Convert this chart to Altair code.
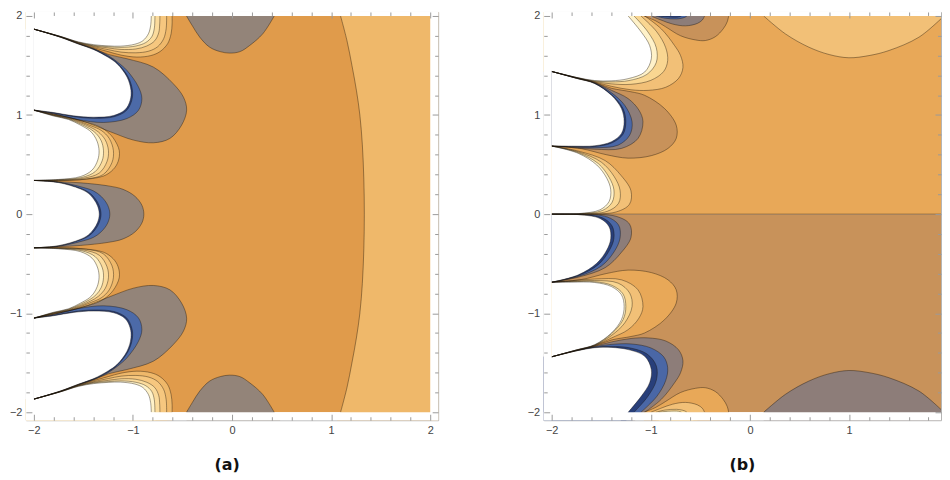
import altair as alt
import pandas as pd

# ---------------- axes / frame ----------------
MAJOR = [-2, -1, 0, 1, 2]
MINOR = [-1.8, -1.6, -1.4, -1.2, -0.8, -0.6, -0.4, -0.2,
         0.2, 0.4, 0.6, 0.8, 1.2, 1.4, 1.6, 1.8]
XDOM_A = [-2.08, 2.08]
XDOM_B = [-2.08, 1.926]
YDOM = [-2.08, 2.04]

# ---------------- colours ----------------
PAL_A = {"white": "#FFFFFF", "cream": "#FFF2C9", "yellow": "#FBDB9C", "light": "#F6C77F",
         "lighter": "#EFB86A", "main": "#E09B4B", "gray": "#938479", "blue": "#4C6AA8",
         "navy": "#283F7A"}
PAL_B = {"white": "#FFFFFF", "cream": "#FFF2C9", "yellow": "#F9D691", "light": "#F2C077",
         "main": "#E8A858", "tan": "#C8925A", "gray": "#8D7D79", "blue": "#4A67A6",
         "navy": "#283F7A"}
SWAP_B = {"white": "white", "cream": "navy", "navy": "cream", "yellow": "blue", "blue": "yellow",
          "light": "gray", "gray": "light", "main": "tan", "tan": "main"}

# ---------------- panel (a): contour curves (upper half) ----------------
A_TOP_OUTER = [(-2, 1.867), (-1.729, 1.789), (-1.55, 1.726), (-1.395, 1.68), (-1.25, 1.64), (-1.12, 1.605),
               (-0.96, 1.585), (-0.82, 1.6), (-0.727, 1.64), (-0.65, 1.72), (-0.615, 1.82), (-0.605, 1.92), (-0.605, 2.0)]
A_TOP_LIGHT = [(-2, 1.867), (-1.729, 1.790), (-1.55, 1.729), (-1.395, 1.69), (-1.25, 1.66), (-1.12, 1.635),
               (-0.97, 1.628), (-0.84, 1.645), (-0.75, 1.69), (-0.69, 1.77), (-0.665, 1.87), (-0.66, 2.0)]
A_TOP_YELLOW = [(-2, 1.867), (-1.729, 1.791), (-1.55, 1.732), (-1.395, 1.697), (-1.25, 1.678), (-1.12, 1.662),
                (-0.97, 1.667), (-0.86, 1.697), (-0.78, 1.75), (-0.74, 1.83), (-0.73, 1.92), (-0.728, 2.0)]
A_TOP_CREAM = [(-2, 1.867), (-1.729, 1.792), (-1.55, 1.735), (-1.395, 1.703), (-1.25, 1.69), (-1.12, 1.683),
               (-0.97, 1.697), (-0.87, 1.732), (-0.81, 1.79), (-0.785, 1.87), (-0.778, 2.0)]
A_TOP_WHITE = [(-2, 1.867), (-1.729, 1.793), (-1.55, 1.738), (-1.395, 1.71), (-1.25, 1.698), (-1.128, 1.695),
               (-0.98, 1.715), (-0.9, 1.75), (-0.844, 1.82), (-0.822, 1.9), (-0.815, 2.0)]

A_LA_GRAY = [(-2, 1.867), (-1.729, 1.787), (-1.55, 1.722), (-1.395, 1.672), (-1.25, 1.612), (-1.06, 1.568),
             (-0.794, 1.484), (-0.594, 1.317), (-0.49, 1.18), (-0.458, 1.05), (-0.509, 0.898), (-0.627, 0.764),
             (-0.794, 0.72), (-0.994, 0.747), (-1.228, 0.831), (-1.529, 0.945), (-1.8, 1.01), (-2, 1.045)]
A_LA_BLUE = [(-2, 1.867), (-1.729, 1.786), (-1.55, 1.72), (-1.395, 1.668), (-1.25, 1.6), (-1.15, 1.53),
             (-1.06, 1.45), (-0.944, 1.283), (-0.91, 1.166), (-0.944, 1.048), (-1.06, 0.965), (-1.295, 0.925),
             (-1.562, 0.955), (-1.8, 1.012), (-2, 1.05)]
A_LA_NAVY = [(-2, 1.867), (-1.729, 1.785), (-1.55, 1.718), (-1.395, 1.664), (-1.25, 1.59), (-1.155, 1.522),
             (-1.048, 1.384), (-1.005, 1.249), (-1.013, 1.145), (-1.066, 1.045), (-1.19, 0.983), (-1.395, 0.967),
             (-1.6, 0.984), (-1.8, 1.02), (-2, 1.05)]
A_LA_WHITE = [(-2, 1.867), (-1.729, 1.784), (-1.55, 1.716), (-1.395, 1.66), (-1.25, 1.582), (-1.161, 1.518),
              (-1.06, 1.384), (-1.02, 1.249), (-1.028, 1.149), (-1.078, 1.055), (-1.195, 0.995), (-1.395, 0.978),
              (-1.6, 0.992), (-1.8, 1.025), (-2, 1.05)]

A_LB_OUTER = [(-2, 1.05), (-1.8, 1.003), (-1.65, 0.975), (-1.529, 0.943), (-1.395, 0.905), (-1.29, 0.855),
              (-1.2, 0.77), (-1.138, 0.64), (-1.15, 0.53), (-1.2, 0.45), (-1.295, 0.385), (-1.529, 0.347),
              (-1.75, 0.338), (-2, 0.34)]
A_LB_LIGHT = [(-2, 1.05), (-1.8, 1.0), (-1.65, 0.97), (-1.529, 0.933), (-1.42, 0.89), (-1.32, 0.845),
              (-1.24, 0.765), (-1.197, 0.64), (-1.212, 0.52), (-1.3, 0.4), (-1.47, 0.355), (-1.75, 0.341), (-2, 0.34)]
A_LB_YELLOW = [(-2, 1.05), (-1.8, 0.997), (-1.65, 0.965), (-1.529, 0.922), (-1.43, 0.878), (-1.35, 0.83),
               (-1.28, 0.75), (-1.247, 0.64), (-1.262, 0.53), (-1.34, 0.415), (-1.5, 0.362), (-1.75, 0.344), (-2, 0.34)]
A_LB_CREAM = [(-2, 1.05), (-1.8, 0.994), (-1.65, 0.96), (-1.529, 0.91), (-1.44, 0.865), (-1.37, 0.812),
              (-1.32, 0.74), (-1.297, 0.64), (-1.31, 0.54), (-1.38, 0.43), (-1.515, 0.37), (-1.75, 0.347), (-2, 0.34)]
A_LB_WHITE = [(-2, 1.05), (-1.8, 0.99), (-1.65, 0.955), (-1.529, 0.898), (-1.44, 0.845), (-1.395, 0.797),
              (-1.36, 0.73), (-1.342, 0.64), (-1.355, 0.546), (-1.412, 0.445), (-1.529, 0.379), (-1.75, 0.35), (-2, 0.34)]

# centre lobe (upper halves; the picture is mirror-symmetric about y = 0)
A_LC_GRAY_H = [(-2, 0.34), (-1.75, 0.328), (-1.529, 0.316), (-1.25, 0.285), (-1.1, 0.25), (-0.98, 0.18),
               (-0.91, 0.09), (-0.89, 0.0)]
A_LC_BLUE_H = [(-2, 0.34), (-1.75, 0.324), (-1.533, 0.278), (-1.4, 0.235), (-1.317, 0.175), (-1.255, 0.09),
               (-1.233, 0.0)]
A_LC_NAVY_H = [(-2, 0.34), (-1.75, 0.321), (-1.533, 0.262), (-1.44, 0.216), (-1.38, 0.155), (-1.34, 0.085),
               (-1.322, 0.0)]
A_LC_WHITE_H = [(-2, 0.34), (-1.75, 0.318), (-1.533, 0.255), (-1.45, 0.21), (-1.395, 0.15), (-1.357, 0.083),
                (-1.34, 0.0)]

A_BLOB = [(-0.46, 2.0), (-0.40, 1.9), (-0.326, 1.786), (-0.226, 1.685), (-0.12, 1.64), (-0.025, 1.625),
          (0.08, 1.64), (0.175, 1.70), (0.31, 1.82), (0.426, 2.0)]
A_ARC_H = [(1.095, 2.0), (1.16, 1.75), (1.21, 1.5), (1.255, 1.25), (1.29, 1.0), (1.315, 0.7), (1.33, 0.35),
           (1.335, 0.0)]

# ---------------- panel (b): contour curves (upper half; lower half is its mirror image) ----------------
B_TOP_LIGHT = [(-2, 1.44), (-1.75, 1.377), (-1.565, 1.333), (-1.397, 1.29), (-1.2, 1.255), (-1.028, 1.249),
               (-0.85, 1.28), (-0.72, 1.37), (-0.676, 1.48), (-0.7, 1.6), (-0.761, 1.702), (-0.894, 1.869),
               (-1.062, 2.0)]
B_TOP_YELLOW = [(-2, 1.44), (-1.75, 1.378), (-1.565, 1.338), (-1.4, 1.315), (-1.2, 1.31), (-1.0, 1.35),
                (-0.87, 1.44), (-0.83, 1.55), (-0.85, 1.68), (-0.94, 1.84), (-1.1, 2.0)]
B_TOP_CREAM = [(-2, 1.44), (-1.75, 1.379), (-1.565, 1.343), (-1.4, 1.335), (-1.22, 1.348), (-1.04, 1.41),
               (-0.945, 1.53), (-0.945, 1.68), (-1.03, 1.84), (-1.17, 2.0)]
B_TOP_WHITE = [(-2, 1.44), (-1.75, 1.38), (-1.565, 1.348), (-1.4, 1.345), (-1.229, 1.367), (-1.062, 1.434),
               (-0.995, 1.568), (-1.012, 1.702), (-1.095, 1.836), (-1.229, 2.0)]

B_LB_TAN = [(-2, 1.44), (-1.75, 1.374), (-1.565, 1.329), (-1.397, 1.27), (-1.2, 1.235), (-1.062, 1.199),
            (-0.861, 1.065), (-0.744, 0.898), (-0.744, 0.764), (-0.827, 0.663), (-0.995, 0.59), (-1.229, 0.565),
            (-1.45, 0.6), (-1.7, 0.66), (-2, 0.687)]
B_LB_GRAY = [(-2, 1.44), (-1.75, 1.373), (-1.565, 1.326), (-1.397, 1.25), (-1.229, 1.166), (-1.12, 1.05),
             (-1.079, 0.932), (-1.129, 0.764), (-1.296, 0.663), (-1.565, 0.655), (-1.8, 0.672), (-2, 0.687)]
B_LB_BLUE = [(-2, 1.44), (-1.75, 1.372), (-1.565, 1.323), (-1.397, 1.225), (-1.263, 1.098), (-1.189, 0.932),
             (-1.213, 0.797), (-1.33, 0.696), (-1.565, 0.67), (-1.8, 0.678), (-2, 0.687)]
B_LB_NAVY = [(-2, 1.44), (-1.75, 1.371), (-1.565, 1.32), (-1.397, 1.207), (-1.28, 1.065), (-1.252, 0.932),
             (-1.28, 0.806), (-1.39, 0.72), (-1.565, 0.682), (-1.8, 0.682), (-2, 0.687)]
B_LB_WHITE = [(-2, 1.44), (-1.75, 1.37), (-1.565, 1.317), (-1.397, 1.199), (-1.296, 1.065), (-1.269, 0.932),
              (-1.296, 0.814), (-1.397, 0.731), (-1.565, 0.69), (-1.8, 0.686), (-2, 0.687)]

B_LY_LIGHT = [(-2, 0.687), (-1.731, 0.636), (-1.46, 0.54), (-1.3, 0.39), (-1.2, 0.235), (-1.215, 0.1),
              (-1.35, 0.022), (-1.65, 0.002), (-2, 0.0)]
B_LY_YELLOW = [(-2, 0.687), (-1.731, 0.628), (-1.5, 0.525), (-1.37, 0.38), (-1.31, 0.24), (-1.325, 0.11),
               (-1.44, 0.028), (-1.72, 0.003), (-2, 0.0)]
B_LY_CREAM = [(-2, 0.687), (-1.731, 0.62), (-1.53, 0.51), (-1.42, 0.37), (-1.372, 0.245), (-1.39, 0.12),
              (-1.49, 0.036), (-1.731, 0.004), (-2, 0.0)]
B_LY_WHITE = [(-2, 0.687), (-1.731, 0.613), (-1.545, 0.496), (-1.444, 0.362), (-1.404, 0.245), (-1.421, 0.127),
              (-1.512, 0.044), (-1.731, 0.005), (-2, 0.0)]

B_BLOB_TAN = [(-1.07, 2.0), (-0.95, 1.95), (-0.85, 1.89), (-0.7, 1.8), (-0.55, 1.758), (-0.45, 1.752),
              (-0.35, 1.79), (-0.27, 1.87), (-0.23, 1.94), (-0.215, 2.0)]
B_BLOB_GRAY = [(-1.0, 2.0), (-0.9, 1.96), (-0.78, 1.918), (-0.65, 1.9), (-0.53, 1.925), (-0.48, 1.96), (-0.458, 2.0)]
B_BLOB_BLUE = [(-0.95, 2.0), (-0.86, 1.978), (-0.74, 1.97), (-0.66, 1.985), (-0.636, 2.0)]
B_BLOB_NAVY = [(-0.92, 2.0), (-0.82, 1.989), (-0.72, 1.989), (-0.69, 2.0)]
B_CIRCLE = [(0.138, 2.0), (0.357, 1.819), (0.593, 1.685), (0.8, 1.61), (0.997, 1.578), (1.2, 1.6),
            (1.401, 1.651), (1.704, 1.786), (1.956, 2.0)]
B_CUT = [(-2, 0.0), (2, 0.0)]

# ---------------- helpers ----------------
E = 2.4


def closure(pts, kind):
    if kind == "cusp":
        return []
    (x0, y0), (x1, y1) = pts[-2], pts[-1]
    dx, dy = x1 - x0, y1 - y0
    ln = (dx * dx + dy * dy) ** 0.5
    ext = (x1 + dx / ln * 0.12, y1 + dy / ln * 0.12)
    if kind == "top":
        out = [ext, (x1, E)]
        xf, yf = pts[0]
        if yf >= 1.999:
            out.append((xf, E))
        else:
            out += [(-E, E), (-E, yf)]
        return out
    if kind == "right":
        return [ext, (E, -E), (E, 0.0), (E, E), (pts[0][0], E)]
    return []


def full_sym(half):
    return half + [(x, -y) for (x, y) in reversed(half[:-1])]


def add_shape(rows, name, colour, z, pts, kind, mirror=False):
    clo = closure(pts, kind)
    allp = [(p, False) for p in pts] + [(p, True) for p in clo]
    for i, ((x, y), edge) in enumerate(allp):
        rows.append({"shape": name, "fill": colour, "z": z, "i": i, "x": x,
                     "y": -y if mirror else y, "edge": edge})


# ---------------- panel (a) tables ----------------
A_SHAPES = [
    ("top_o", "lighter", 1, "top", A_TOP_OUTER), ("top_l", "light", 2, "top", A_TOP_LIGHT),
    ("top_y", "yellow", 3, "top", A_TOP_YELLOW), ("top_c", "cream", 4, "top", A_TOP_CREAM),
    ("top_w", "white", 9, "top", A_TOP_WHITE),
    ("la_g", "gray", 1, "cusp", A_LA_GRAY), ("la_b", "blue", 2, "cusp", A_LA_BLUE),
    ("la_n", "navy", 3, "cusp", A_LA_NAVY), ("la_w", "white", 9, "cusp", A_LA_WHITE),
    ("lb_o", "lighter", 1, "cusp", A_LB_OUTER), ("lb_l", "light", 2, "cusp", A_LB_LIGHT),
    ("lb_y", "yellow", 3, "cusp", A_LB_YELLOW), ("lb_c", "cream", 4, "cusp", A_LB_CREAM),
    ("lb_w", "white", 9, "cusp", A_LB_WHITE),
    ("blob", "gray", 1, "top", A_BLOB),
]
rows_a = []
for name, key, z, kind, pts in A_SHAPES:
    add_shape(rows_a, "a_" + name, PAL_A[key], z, pts, kind)
    add_shape(rows_a, "a_m_" + name, PAL_A[key], z, pts, kind, mirror=True)
for name, key, z, half in [("lc_g", "gray", 1, A_LC_GRAY_H), ("lc_b", "blue", 2, A_LC_BLUE_H),
                           ("lc_n", "navy", 3, A_LC_NAVY_H), ("lc_w", "white", 9, A_LC_WHITE_H)]:
    add_shape(rows_a, "a_" + name, PAL_A[key], z, full_sym(half), "cusp")
add_shape(rows_a, "a_arc", PAL_A["lighter"], 1, full_sym(A_ARC_H), "right")
df_a = pd.DataFrame(rows_a)
bg_a = pd.DataFrame([{"x": -2, "x2": 2, "y": -2, "y2": 2, "fill": PAL_A["main"]}])
mask_a = pd.DataFrame([{"x": -3, "x2": -2, "y": -3, "y2": 3}, {"x": 2, "x2": 3, "y": -3, "y2": 3},
                       {"x": -3, "x2": 3, "y": 2, "y2": 3}, {"x": -3, "x2": 3, "y": -3, "y2": -2}])

# ---------------- panel (b) tables ----------------
B_SHAPES = [
    ("top_l", "light", 1, "top", B_TOP_LIGHT), ("top_y", "yellow", 2, "top", B_TOP_YELLOW),
    ("top_c", "cream", 3, "top", B_TOP_CREAM), ("top_w", "white", 9, "top", B_TOP_WHITE),
    ("lb_t", "tan", 1, "cusp", B_LB_TAN), ("lb_g", "gray", 2, "cusp", B_LB_GRAY),
    ("lb_b", "blue", 3, "cusp", B_LB_BLUE), ("lb_n", "navy", 4, "cusp", B_LB_NAVY),
    ("lb_w", "white", 9, "cusp", B_LB_WHITE),
    ("ly_l", "light", 1, "cusp", B_LY_LIGHT), ("ly_y", "yellow", 2, "cusp", B_LY_YELLOW),
    ("ly_c", "cream", 3, "cusp", B_LY_CREAM), ("ly_w", "white", 9, "cusp", B_LY_WHITE),
    ("bl_t", "tan", 1, "top", B_BLOB_TAN), ("bl_g", "gray", 2, "top", B_BLOB_GRAY),
    ("bl_b", "blue", 3, "top", B_BLOB_BLUE), ("bl_n", "navy", 4, "top", B_BLOB_NAVY),
    ("circ", "light", 1, "top", B_CIRCLE),
]
rows_b = []
for name, key, z, kind, pts in B_SHAPES:
    add_shape(rows_b, "b_" + name, PAL_B[key], z, pts, kind)
    add_shape(rows_b, "b_m_" + name, PAL_B[SWAP_B[key]], z, pts, kind, mirror=True)
df_b = pd.DataFrame(rows_b)
bg_b = pd.DataFrame([{"x": -2, "x2": 2, "y": 0, "y2": 2, "fill": PAL_B["main"]},
                     {"x": -2, "x2": 2, "y": -2, "y2": 0, "fill": PAL_B["tan"]}])
cut_b = pd.DataFrame([{"shape": "cut", "i": i, "x": x, "y": y} for i, (x, y) in enumerate(B_CUT)])
mask_b = pd.DataFrame([{"x": -3, "x2": -2, "y": -3, "y2": 3},
                       {"x": -3, "x2": 3, "y": 2, "y2": 3}, {"x": -3, "x2": 3, "y": -3, "y2": -2}])

# ---------------- chart ----------------
LABEL_FONT = "Liberation Sans"
TICK_COL = "#9a9a9a"
LINE_COL = "#1a1208"


def xe(dom, axis=None):
    return alt.X("x:Q", scale=alt.Scale(domain=dom, nice=False, zero=False), axis=axis)


def ye(axis=None):
    return alt.Y("y:Q", scale=alt.Scale(domain=YDOM, nice=False, zero=False), axis=axis)


def ax(orient, values, size, labels):
    kw = dict(orient=orient, values=values, tickSize=size, offset=-size, domain=False, grid=False,
              labels=labels, title=None, tickColor=TICK_COL, tickWidth=1, zindex=2)
    if labels:
        kw.update(labelPadding=4, labelFont=LABEL_FONT, labelFontSize=11, labelColor="#444444",
                  labelFlush=False, labelOverlap=False)
    return alt.Axis(**kw)


def panel(df, bg, masks, xdom, width, title, dx, extra_lines=None):
    maj = [v for v in MAJOR if xdom[0] <= v <= xdom[1]]
    mnr = [v for v in MINOR if xdom[0] <= v <= xdom[1]]
    layers = [alt.Chart(bg).mark_rect(clip=True).encode(
        x=xe(xdom), x2="x2:Q", y=ye(), y2="y2:Q", fill=alt.Fill("fill:N", scale=None))]
    for z in sorted(df["z"].unique()):
        layers.append(alt.Chart(df[df["z"] == z]).mark_line(
            interpolate="catmull-rom", strokeOpacity=0, clip=True).encode(
            x=xe(xdom), y=ye(), detail="shape:N", order="i:Q", fill=alt.Fill("fill:N", scale=None)))
    lines = df[~df["edge"]]
    layers.append(alt.Chart(lines).mark_line(
        interpolate="catmull-rom", stroke=LINE_COL, strokeOpacity=0.5, strokeWidth=0.8, clip=True).encode(
        x=xe(xdom), y=ye(), detail="shape:N", order="i:Q"))
    if extra_lines is not None:
        layers.append(alt.Chart(extra_lines).mark_line(
            stroke=LINE_COL, strokeOpacity=0.5, strokeWidth=0.8, clip=True).encode(
            x=xe(xdom), y=ye(), detail="shape:N", order="i:Q"))
    layers.append(alt.Chart(masks).mark_rect(color="white", clip=True).encode(
        x=xe(xdom), x2="x2:Q", y=ye(), y2="y2:Q"))
    for (ox, oy, vals, yvals, size, lab) in [("bottom", "left", maj, MAJOR, 6, True),
                                             ("bottom", "left", mnr, MINOR, 3.5, False),
                                             ("top", "right", maj, MAJOR, 6, False),
                                             ("top", "right", mnr, MINOR, 3.5, False)]:
        layers.append(alt.Chart(masks).mark_point(opacity=0, clip=True).encode(
            x=xe(xdom, ax(ox, vals, size, lab)),
            y=ye(ax(oy, yvals, size, lab))))
    return alt.layer(*layers).resolve_axis(x="independent", y="independent").properties(
        width=width, height=410,
        title=alt.TitleParams(text=title, orient="bottom", anchor="middle", fontSize=16, fontWeight="bold",
                              font="DejaVu Sans", color="#111111", offset=22, dx=dx))


pa = panel(df_a, bg_a, mask_a, XDOM_A, 414, "(a)", -5)
pb = panel(df_b, bg_b, mask_b, XDOM_B, 399, "(b)", 0, extra_lines=cut_b)

chart = alt.hconcat(pa, pb, spacing=87).properties(
    padding={"left": 0, "top": 0, "right": 0, "bottom": 0}
).configure_view(stroke="#b4b4b4", strokeWidth=1)

chart.save("out.html", embed_options={"renderer": "svg", "actions": False})
